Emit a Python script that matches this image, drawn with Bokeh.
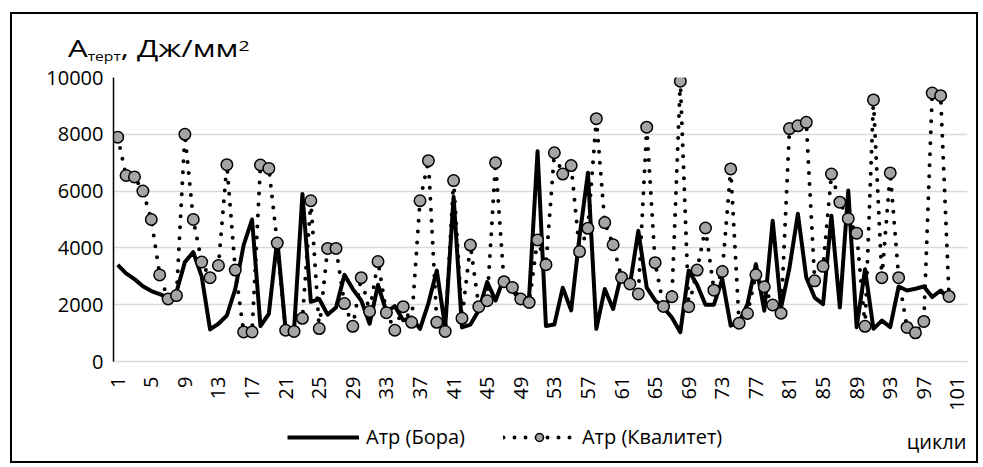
import math
from bokeh.plotting import figure
from bokeh.layouts import column
from bokeh.models import (FixedTicker, Legend, LegendItem, ColumnDataSource, Range1d, Div)
from bokeh.core.properties import value
from bokeh.embed import file_html
from bokeh.resources import INLINE

# Friction work per cycle, J/mm^2
cycles = list(range(1, 101))
bora = [
    3400, 3100, 2900, 2650, 2480, 2370, 2250, 2450, 3500, 3850,
    3000, 1130, 1330, 1620, 2550, 4100, 5000, 1250, 1680, 4300,
    1100, 1100, 5900, 2100, 2200, 1650, 1900, 3050, 2550, 2150,
    1330, 2700, 1750, 1950, 1450, 1550, 1150, 2050, 3200, 1200,
    5800, 1200, 1300, 1800, 2800, 2150, 2950, 2500, 2150, 2300,
    7400, 1250, 1300, 2600, 1800, 4400, 6650, 1150, 2550, 1850,
    3100, 2700, 4600, 2600, 2150, 1900, 1550, 1030, 3200, 2700,
    2000, 2000, 2900, 1260, 1380, 2020, 3430, 1790, 4960, 1900,
    3300, 5200, 2960, 2250, 2020, 5130, 1900, 6020, 1210, 3250,
    1150, 1440, 1210, 2640, 2500, 2560, 2640, 2270, 2500, 2200,
]
kvalitet = [
    7900, 6550, 6500, 6000, 5000, 3050, 2200, 2320, 8000, 5000,
    3500, 2950, 3380, 6930, 3220, 1040, 1040, 6920, 6800, 4170,
    1100, 1060, 1520, 5660, 1160, 3980, 3980, 2040, 1240, 2950,
    1760, 3520, 1720, 1100, 1930, 1380, 5660, 7070, 1380, 1060,
    6370, 1520, 4100, 1930, 2140, 7000, 2810, 2610, 2200, 2080,
    4280, 3410, 7350, 6600, 6900, 3870, 4690, 8550, 4890, 4110,
    2960, 2730, 2380, 8250, 3480, 1940, 2280, 9870, 1930, 3220,
    4700, 2510, 3170, 6780, 1350, 1690, 3055, 2630, 1990, 1700,
    8200, 8300, 8420, 2840, 3350, 6600, 5610, 5030, 4520, 1240,
    9210, 2950, 6640, 2950, 1200, 1010, 1410, 9450, 9360, 2290,
]
x_ticks = list(range(1, 102, 4))
y_ticks = [0, 2000, 4000, 6000, 8000, 10000]

series_names = ["Атр (Бора)", "Атр (Квалитет)"]
x_title = "цикли"

FONT = "Open Sans"
W = 964            # inner width of the framed chart block

src = ColumnDataSource(dict(x=cycles, bora=bora, kval=kvalitet))

bora_style = dict(line_color="black", line_width=4, line_join="round")
kline_style = dict(line_color="black", line_width=4, line_dash="0 11", line_cap="round")
kmark_style = dict(marker="circle", size=11.5, fill_color="#a5a5a5",
                   line_color="black", line_width=1.5)

# ---- y-axis quantity heading: A_терт, Дж/мм²
head = Div(
    text=(
        '<div style="position:relative;width:964px;height:50px;">'
        '<span style="position:absolute;left:56px;top:22px;font-family:\'Open Sans\';'
        'font-size:24px;line-height:24px;color:#000;white-space:nowrap;'
        'transform:scaleX(1.3);transform-origin:left top;">'
        'A<span style="font-size:12px;position:relative;top:4px;">терт</span>'
        ', Дж/мм<span style="font-size:15px;position:relative;top:-6px;">2</span>'
        '</span></div>'
    ),
    width=W, height=50, margin=(0, 0, 0, 0),
)

# ---- main chart
p = figure(width=W, height=349, x_range=(0.5, 102.2), y_range=(0, 10000),
           output_backend="svg", toolbar_location=None,
           min_border_left=101, min_border_right=9,
           min_border_top=13, min_border_bottom=52)
p.outline_line_color = None
p.background_fill_color = "white"
p.border_fill_color = "white"

p.xgrid.grid_line_color = None
p.ygrid.ticker = FixedTicker(ticks=y_ticks)
p.ygrid.grid_line_color = "#d9d9d9"
p.ygrid.grid_line_width = 1.3

p.yaxis.ticker = FixedTicker(ticks=y_ticks)
p.yaxis.axis_line_color = "black"
p.yaxis.axis_line_width = 1.5
p.yaxis.major_tick_line_color = None
p.yaxis.minor_tick_line_color = None
p.yaxis.major_tick_out = 0
p.yaxis.major_label_standoff = 10
p.yaxis.major_label_text_font = FONT
p.yaxis.major_label_text_font_size = "20px"
p.yaxis.major_label_text_color = "black"

p.xaxis.ticker = FixedTicker(ticks=x_ticks)
p.xaxis.axis_line_color = "#d9d9d9"
p.xaxis.axis_line_width = 1.3
p.xaxis.major_tick_line_color = None
p.xaxis.minor_tick_line_color = None
p.xaxis.major_tick_out = 0
p.xaxis.major_label_standoff = 15
p.xaxis.major_label_orientation = math.pi / 2
p.xaxis.major_label_text_font = FONT
p.xaxis.major_label_text_font_size = "20px"
p.xaxis.major_label_text_color = "black"

p.line("x", "bora", source=src, **bora_style)
p.line("x", "kval", source=src, **kline_style)
p.scatter("x", "kval", source=src, **kmark_style)

# ---- legend row with the x-axis title (frame lines up with the chart frame,
#      ranges are page pixels)
foot = figure(width=W, height=48, x_range=Range1d(113, 967), y_range=Range1d(461, 413),
              output_backend="svg", toolbar_location=None,
              min_border_left=101, min_border_right=9,
              min_border_top=0, min_border_bottom=0)
foot.axis.visible = False
foot.grid.visible = False
foot.outline_line_color = None
foot.background_fill_color = "white"
foot.border_fill_color = "white"

lb = foot.line("x", "bora", source=src, visible=False, **bora_style)
lk = foot.line("x", "kval", source=src, visible=False, **kline_style)
mk = foot.scatter("x", "kval", source=src, visible=False, **kmark_style)
legend = Legend(items=[LegendItem(label=series_names[0], renderers=[lb]),
                       LegendItem(label=series_names[1], renderers=[lk, mk])],
                location=(174, 11), orientation="horizontal",
                border_line_color=None, background_fill_alpha=0,
                inactive_fill_alpha=0,
                padding=0, margin=0, spacing=38, glyph_width=72, glyph_height=20,
                label_standoff=7, label_text_font=FONT,
                label_text_font_size="20px", label_text_color="black")
foot.add_layout(legend, "center")
foot.text(x=[966], y=[441], text=[x_title], text_font=value(FONT),
          text_font_size="20px", text_color="black",
          text_baseline="alphabetic", text_align="right")

page = column(head, p, foot, spacing=0,
              styles={"border": "2px solid black", "margin-left": "10px",
                      "margin-top": "12px"})

open("out.html", "w").write(file_html(page, INLINE))
